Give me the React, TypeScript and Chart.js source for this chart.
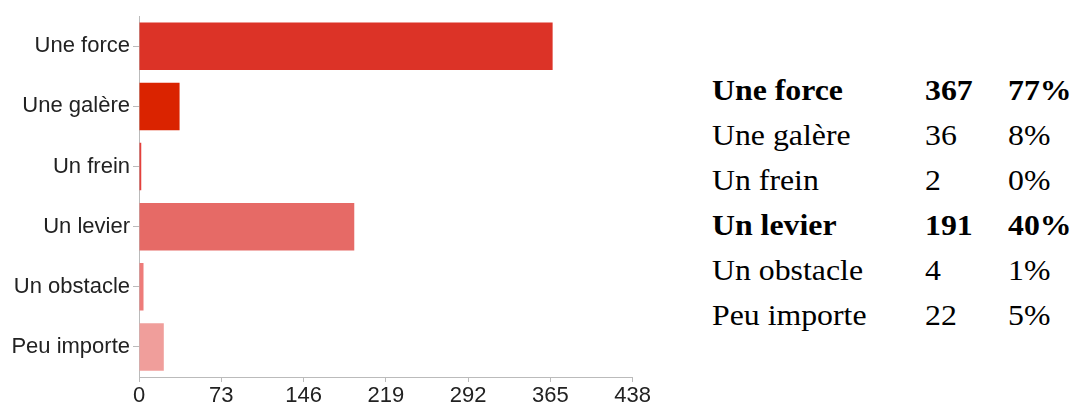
import React, { useEffect, useRef } from "react";
import { Chart, registerables } from "chart.js";

Chart.register(...registerables);

const categories = ["Une force", "Une galère", "Un frein", "Un levier", "Un obstacle", "Peu importe"];
const counts = [367, 36, 2, 191, 4, 22];
const percents = ["77%", "8%", "0%", "40%", "1%", "5%"];
const boldRows = [true, false, false, true, false, false];
const barColors = ["#dc3327", "#da2300", "#e4403c", "#e66a66", "#ee7b79", "#f09e9b"];
const xMax = 438;
const xStep = 73;

export default function App() {
  const canvasRef = useRef<HTMLCanvasElement | null>(null);

  useEffect(() => {
    const canvas = canvasRef.current;
    if (!canvas) return;
    const chart = new Chart(canvas, {
      type: "bar",
      data: {
        labels: categories,
        datasets: [
          {
            data: counts,
            backgroundColor: barColors,
            borderWidth: 0,
            categoryPercentage: 1,
            barPercentage: 0.79,
          },
        ],
      },
      options: {
        indexAxis: "y",
        animation: false,
        responsive: false,
        maintainAspectRatio: false,
        layout: { padding: { top: 14, left: 0, right: 0, bottom: 0 } },
        plugins: { legend: { display: false }, tooltip: { enabled: false } },
        scales: {
          x: {
            min: 0,
            max: xMax,
            ticks: {
              stepSize: xStep,
              color: "#222",
              font: { family: "'Liberation Sans', Arial, sans-serif", size: 22 },
              padding: 1,
              maxRotation: 0,
            },
            grid: { display: true, drawOnChartArea: false, tickLength: 5, color: "#bbb" },
            border: { color: "#bbb", width: 1 },
            afterFit: (scale: any) => {
              scale.height = 32;
            },
          },
          y: {
            ticks: {
              color: "#222",
              font: { family: "'Liberation Sans', Arial, sans-serif", size: 22 },
              padding: 3,
            },
            grid: { display: true, drawOnChartArea: false, tickLength: 6, color: "#bbb", offset: false },
            border: { color: "#bbb", width: 1 },
            afterFit: (scale: any) => {
              scale.width = 139;
            },
          },
        },
      },
    });
    return () => chart.destroy();
  }, []);

  const font = "'Liberation Serif', 'Times New Roman', serif";
  return (
    <div style={{ position: "fixed", left: 0, top: 0, width: 1087, height: 409, background: "#fff" }}>
      <canvas ref={canvasRef} width={652} height={409} style={{ position: "absolute", left: 0, top: 0 }} />
      {categories.map((c, i) => {
        const top = 72 + i * 45;
        const st: React.CSSProperties = {
          position: "absolute",
          top,
          fontFamily: font,
          fontSize: 30,
          lineHeight: "36px",
          fontWeight: boldRows[i] ? "bold" : "normal",
          color: "#000",
          whiteSpace: "nowrap",
          transform: "scaleX(1.06)",
          transformOrigin: "left center",
        };
        return (
          <React.Fragment key={c}>
            <div style={{ ...st, left: 712 }}>{c}</div>
            <div style={{ ...st, left: 925 }}>{counts[i]}</div>
            <div style={{ ...st, left: 1008 }}>{percents[i]}</div>
          </React.Fragment>
        );
      })}
    </div>
  );
}
